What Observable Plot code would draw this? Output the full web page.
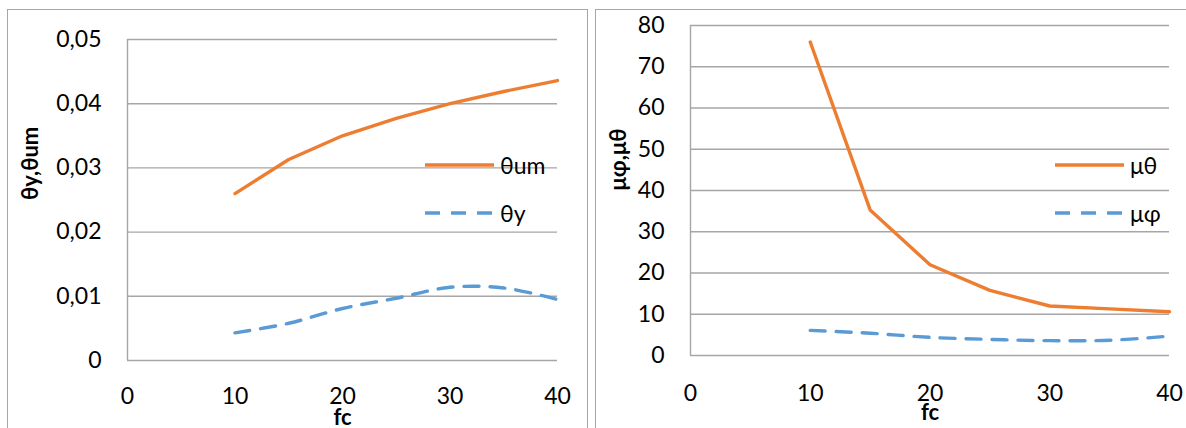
<!DOCTYPE html>
<html>
<head>
<meta charset="utf-8">
<script src="https://cdn.jsdelivr.net/npm/d3@7"></script>
<script src="https://cdn.jsdelivr.net/npm/@observablehq/plot@0.6"></script>
<style>
  html, body { margin: 0; padding: 0; background: #fff; }
  body {
    width: 1186px; height: 428px; overflow: hidden; position: relative;
    font-family: Lato, "Open Sans", "Noto Sans", sans-serif;
  }
  .panel {
    position: absolute; top: 9px; height: 440px;
    border: 1.5px solid #a6a6a6; border-bottom: none; box-sizing: border-box;
  }
  .chart { position: absolute; top: 0; }
  .chart svg { overflow: visible; }
  .legend { position: absolute; font-size: 23px; color: #000; }
  .legend .item { position: absolute; display: flex; align-items: center; white-space: nowrap; }
  .legend svg { display: block; margin-right: 5px; }
</style>
</head>
<body>
<div class="panel" style="left:7px; width:581px"></div>
<div class="panel" style="left:595px; width:600px"></div>
<div id="left" class="chart" style="left:0px"></div>
<div id="right" class="chart" style="left:590px"></div>
<div id="legend-left" class="legend" style="left:425px; top:165px"></div>
<div id="legend-right" class="legend" style="left:1055px; top:165px"></div>
<script>
// concrete strength fc and the rotation / ductility results
const fc = [10, 15, 20, 25, 30, 35, 40];
const thetaUm = [0.026, 0.0313, 0.035, 0.0377, 0.040, 0.0419, 0.0436];
const thetaY = [0.0043, 0.0058, 0.0081, 0.0097, 0.0114, 0.0113, 0.0095];
const muTheta = [76, 35.3, 22, 15.8, 12, 11.3, 10.6];
const muPhi = [6.1, 5.4, 4.4, 3.9, 3.6, 3.7, 4.7];

const xTicks = [0, 10, 20, 30, 40];
const leftTicks = [0, 0.01, 0.02, 0.03, 0.04, 0.05];
const rightTicks = [0, 10, 20, 30, 40, 50, 60, 70, 80];

const ORANGE = "#ED7D31";
const BLUE = "#5B9BD5";
const GRID = "#a6a6a6";
const DASH = "15,11";

const rows = (ys) => fc.map((x, i) => ({x, y: ys[i]}));
const commaFormat = (d) => d === 0 ? "0" : d.toFixed(2).replace(".", ",");

function panel({width, margins, yTicks, yFormat, tickPadX, tickPadY, solid, dashed, yTitle, titleDx}) {
  const [mt, mr, mb, ml] = margins;
  const yMax = d3.max(yTicks);
  return Plot.plot({
    width, height: 428,
    marginTop: mt, marginRight: mr, marginBottom: mb, marginLeft: ml,
    style: {fontSize: "23px", fontFamily: 'Lato, "Open Sans", "Noto Sans", sans-serif', color: "#000", background: "transparent"},
    x: {domain: [0, 40], ticks: xTicks, tickSize: 0, tickPadding: tickPadX, label: null},
    y: {domain: [0, yMax], ticks: yTicks, tickSize: 0, tickPadding: tickPadY, tickFormat: yFormat, label: null},
    marks: [
      Plot.ruleY(yTicks, {stroke: GRID, strokeWidth: 1.4}),
      Plot.ruleX([0], {y1: 0, y2: yMax, stroke: GRID, strokeWidth: 1.4}),
      Plot.line(rows(solid), {x: "x", y: "y", stroke: ORANGE, strokeWidth: 3.4}),
      Plot.line(rows(dashed), {x: "x", y: "y", stroke: BLUE, strokeWidth: 3.4, strokeDasharray: DASH, curve: "catmull-rom"}),
      Plot.text(["fc"], {x: [d3.mean(xTicks)], frameAnchor: "bottom", lineAnchor: "middle", dy: 57, fontWeight: "bold", fontSize: 22}),
      Plot.text([yTitle], {frameAnchor: "left", lineAnchor: "middle", dx: titleDx, rotate: -90, fontWeight: "bold", fontSize: 22})
    ]
  });
}

document.getElementById("left").append(panel({
  width: 590, margins: [39, 33, 68, 127],
  yTicks: leftTicks, yFormat: commaFormat, tickPadX: 27, tickPadY: 26,
  solid: thetaUm, dashed: thetaY, yTitle: "θy,θum", titleDx: -97
}));

document.getElementById("right").append(panel({
  width: 596, margins: [25, 17, 73, 100],
  yTicks: rightTicks, yFormat: d3.format("d"), tickPadX: 29, tickPadY: 26,
  solid: muTheta, dashed: muPhi, yTitle: "μφ,μθ", titleDx: -72
}));

// legend swatches: solid and dashed line samples with their names
function legend(el, entries) {
  entries.forEach(([name, color, dash], i) => {
    const item = document.createElement("div");
    item.className = "item";
    item.style.top = (i * 48 - 14) + "px";
    item.style.height = "28px";
    const svg = d3.create("svg").attr("width", 70).attr("height", 28);
    svg.append("line").attr("x1", 0).attr("x2", 69).attr("y1", 14).attr("y2", 14)
      .attr("stroke", color).attr("stroke-width", 3.4)
      .attr("stroke-dasharray", dash || null);
    item.append(svg.node());
    const label = document.createElement("span");
    label.textContent = name;
    item.append(label);
    el.append(item);
  });
}
legend(document.getElementById("legend-left"), [["θum", ORANGE], ["θy", BLUE, DASH]]);
legend(document.getElementById("legend-right"), [["μθ", ORANGE], ["μφ", BLUE, DASH]]);
</script>
</body>
</html>
